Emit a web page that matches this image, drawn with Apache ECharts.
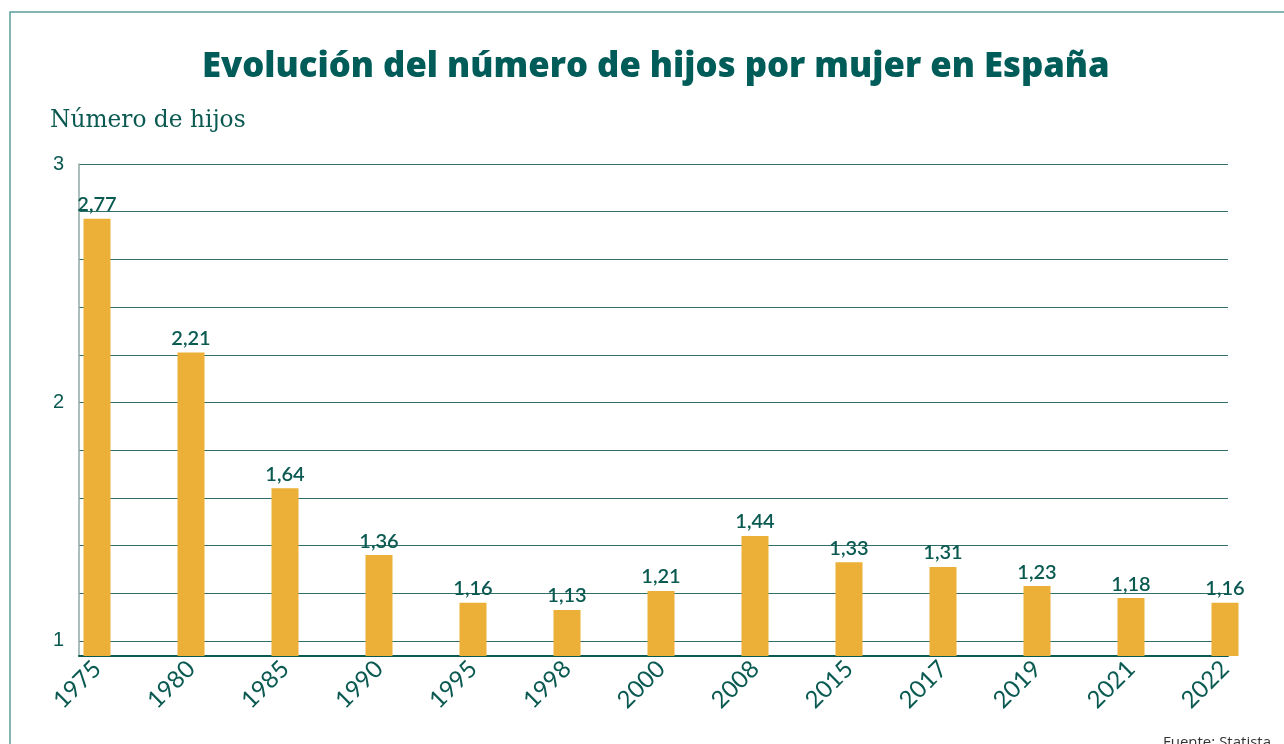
<!DOCTYPE html>
<html>
    <head>
        <meta charset="utf-8">
        <script src="https://cdn.jsdelivr.net/npm/echarts@6/dist/echarts.min.js"></script>
        <style>
            html, body { margin: 0; padding: 0; background: #fff; }
            #main { width: 1284px; height: 744px; }
        </style>
    </head>
    <body>
        <div id="main"></div>
        <script>
            // datos
            var years = ['1975', '1980', '1985', '1990', '1995', '1998', '2000', '2008', '2015', '2017', '2019', '2021', '2022'];
            var hijos = [2.77, 2.21, 1.64, 1.36, 1.16, 1.13, 1.21, 1.44, 1.33, 1.31, 1.23, 1.18, 1.16];
            var yLabels = [1, 2, 3];
            var yLines = [1, 1.2, 1.4, 1.6, 1.8, 2, 2.2, 2.4, 2.6, 2.8, 3];

            var green = '#0b5a52';
            var chart = echarts.init(document.getElementById('main'));

            chart.setOption({
                animation: false,
                title: [
                    {
                        text: 'Evolución del número de hijos por mujer en España',
                        left: 197,
                        top: 45,
                        textStyle: {
                            fontFamily: 'Open Sans',
                            fontWeight: 800,
                            fontSize: 34.7,
                            color: '#005c58'
                        }
                    },
                    {
                        text: 'Número de hijos',
                        left: 45,
                        top: 104,
                        textStyle: {
                            fontFamily: 'DejaVu Serif',
                            fontWeight: 'normal',
                            fontSize: 23.3,
                            color: green
                        }
                    },
                    {
                        text: 'Fuente: Statista',
                        right: 8,
                        top: 730,
                        textStyle: {
                            fontFamily: 'Open Sans',
                            fontWeight: 'normal',
                            fontSize: 15,
                            color: '#333'
                        }
                    }
                ],
                graphic: [{
                    type: 'rect',
                    shape: { x: 10, y: 12, width: 1400, height: 1000 },
                    style: { fill: 'none', stroke: '#5c9c9a', lineWidth: 1.5 },
                    silent: true
                }],
                grid: [
                    { left: 79, right: 56, top: 164, bottom: 88 },
                    { left: 50, right: 12, top: 164, bottom: 88 }
                ],
                xAxis: [
                    {
                        type: 'category',
                        gridIndex: 0,
                        data: years,
                        axisLine: { lineStyle: { color: green, width: 2 } },
                        axisTick: { show: false },
                        axisLabel: { show: false }
                    },
                    {
                        type: 'category',
                        gridIndex: 1,
                        data: years,
                        axisLine: { show: false },
                        axisTick: {
                            alignWithLabel: true,
                            length: 4,
                            lineStyle: { color: '#8fa9a6' }
                        },
                        axisLabel: {
                            rotate: 45,
                            margin: 9,
                            fontFamily: 'Lato',
                            fontSize: 24,
                            color: green
                        }
                    }
                ],
                yAxis: [
                    {
                        type: 'value',
                        gridIndex: 0,
                        min: 0.937,
                        max: 3,
                        axisLine: { show: true, lineStyle: { color: '#8fa9a6', width: 1.5 } },
                        axisTick: { show: false, customValues: yLines },
                        axisLabel: {
                            customValues: yLabels,
                            margin: 15,
                            fontFamily: 'Liberation Sans',
                            fontSize: 20,
                            color: green
                        },
                        splitLine: { lineStyle: { color: '#2f6e69', width: 1.2 } }
                    },
                    {
                        type: 'value',
                        gridIndex: 1,
                        min: 0.937,
                        max: 3,
                        show: false,
                        splitLine: { show: false }
                    }
                ],
                series: [{
                    type: 'bar',
                    xAxisIndex: 1,
                    yAxisIndex: 1,
                    data: hijos,
                    barWidth: 27,
                    itemStyle: { color: '#ecaf37' },
                    label: {
                        show: true,
                        position: 'top',
                        distance: 4,
                        fontFamily: 'Lato',
                        fontWeight: 600,
                        fontSize: 20,
                        color: green,
                        formatter: function (p) {
                            return p.value.toFixed(2).replace('.', ',');
                        }
                    }
                }]
            });
        </script>
    </body>
</html>
